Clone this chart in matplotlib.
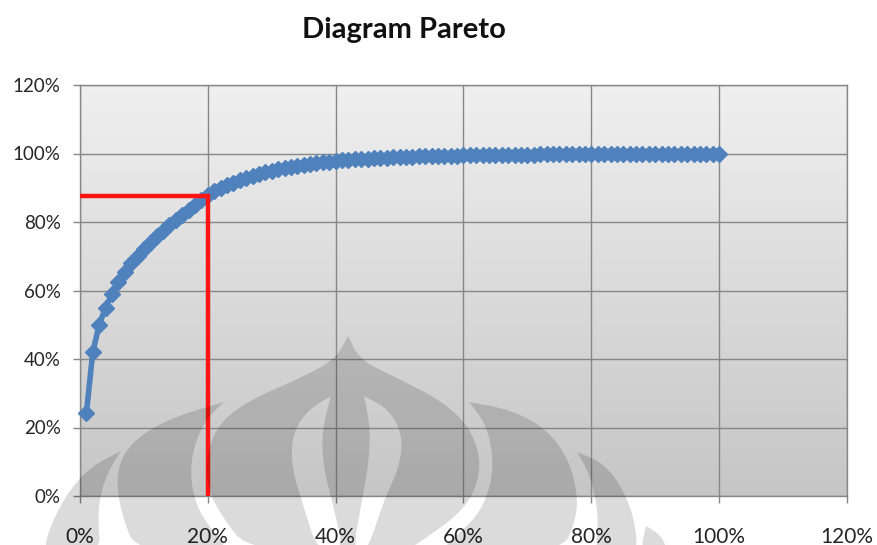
import matplotlib
matplotlib.use("Agg")
import matplotlib.pyplot as plt
import numpy as np
from matplotlib.path import Path
from matplotlib.patches import PathPatch
from matplotlib.ticker import FuncFormatter, MultipleLocator

plt.rcParams["font.family"] = ["Lato", "DejaVu Sans"]

# cumulative share of items (%) vs cumulative share of value (%)
item_share = np.arange(1, 101)
cum_value = [
    24.2, 42.0, 50.0, 55.0, 59.0, 62.5, 65.5, 68.0, 70.0, 72.0,
    74.0, 75.8, 77.5, 79.1, 80.6, 82.0, 83.6, 85.0, 86.5, 88.0,
    89.0, 89.9, 90.7, 91.5, 92.2, 92.9, 93.5, 94.0, 94.5, 95.0,
    95.4, 95.8, 96.1, 96.4, 96.7, 97.0, 97.2, 97.4, 97.6, 97.8,
    98.0, 98.1, 98.3, 98.4, 98.5, 98.6, 98.7, 98.8, 98.9, 99.0,
    99.05, 99.1, 99.15, 99.2, 99.25, 99.3, 99.33, 99.36, 99.4, 99.43,
    99.46, 99.49, 99.52, 99.55, 99.58, 99.6, 99.62, 99.64, 99.66, 99.68,
    99.7, 99.72, 99.74, 99.76, 99.78, 99.8, 99.81, 99.82, 99.83, 99.84,
    99.85, 99.86, 99.87, 99.88, 99.89, 99.9, 99.91, 99.92, 99.93, 99.94,
    99.95, 99.955, 99.96, 99.965, 99.97, 99.975, 99.98, 99.985, 99.99, 100.0,
]
cutoff_x = 20.0
cutoff_y = 87.5

W, H = 878, 545
fig = plt.figure(figsize=(W / 100, H / 100), dpi=100)
ax = fig.add_axes([80 / W, 1 - 496 / H, (847 - 80) / W, (496 - 85) / H])

# plot-area gradient, light at the top
grad = np.linspace(0, 1, 256).reshape(-1, 1)
top, bot = np.array([0.94, 0.94, 0.94]), np.array([0.775, 0.775, 0.775])
img = top + (bot - top) * grad[..., None]
ax.imshow(img.reshape(256, 1, 3), extent=[0, 1, 0, 1], transform=ax.transAxes,
          aspect="auto", zorder=0)

ax.set_xlim(0, 120)
ax.set_ylim(0, 120)
ax.xaxis.set_major_locator(MultipleLocator(20))
ax.yaxis.set_major_locator(MultipleLocator(20))
pct = FuncFormatter(lambda v, _: f"{v:.0f}%")
ax.xaxis.set_major_formatter(pct)
ax.yaxis.set_major_formatter(pct)
ax.grid(True, color="#878787", lw=1.0, zorder=1)
ax.set_axisbelow(True)
for s in ax.spines.values():
    s.set_color("#878787")
    s.set_linewidth(1.0)
ax.tick_params(axis="both", direction="out", length=5, width=1.0, color="#878787",
               labelcolor="#262626")
ax.tick_params(axis="y", labelsize=13.5, pad=9)
ax.tick_params(axis="x", labelsize=15, pad=17)

ax.plot(item_share, cum_value, color="#4f81bd", lw=4.0, marker="D", ms=8,
        mec="#4f81bd", mfc="#4f81bd", zorder=3, clip_on=False)
ax.plot([0, cutoff_x, cutoff_x], [cutoff_y, cutoff_y, 0], color="#ff1414",
        lw=3.2, zorder=4, solid_joinstyle="miter")

fig.text(404 / W, 1 - 30 / H, "Diagram Pareto", ha="center", va="center",
         fontsize=21, fontweight="bold", color="#111111")

# faint logo watermark drawn over the lower part of the figure (pixel coords)
wm = fig.add_axes([0, 0, 1, 1], zorder=10)
wm.set_xlim(0, W)
wm.set_ylim(H, 0)
wm.axis("off")
wm.patch.set_alpha(0)


def area(pts):
    p = np.asarray(pts, float)
    return 0.5 * np.sum(p[:, 0] * np.roll(p[:, 1], -1) - np.roll(p[:, 0], -1) * p[:, 1])


def smooth(pts, keep=(0,), n=3):
    # Chaikin corner cutting; vertices listed in `keep` stay as sharp tips
    p = [np.asarray(q, float) for q in pts]
    sharp = [i in keep for i in range(len(p))]
    for _ in range(n):
        out, flags = [], []
        m = len(p)
        for i in range(m):
            a, b = p[i], p[(i + 1) % m]
            if sharp[i]:
                out.append(a)
                flags.append(True)
            out.append(0.75 * a + 0.25 * b if not sharp[i] else 0.85 * a + 0.15 * b)
            flags.append(False)
            out.append(0.25 * a + 0.75 * b if not sharp[(i + 1) % m] else 0.15 * a + 0.85 * b)
            flags.append(False)
        p, sharp = out, flags
    return [tuple(q) for q in p]


def shape(outer, holes=(), keep=(0,)):
    verts, codes = [], []
    rings = [smooth(outer, keep)] + [smooth(h, (0,)) for h in holes]
    sign = np.sign(area(rings[0]))
    for i, ring in enumerate(rings):
        if i > 0 and np.sign(area(ring)) == sign:
            ring = ring[::-1]
        verts += ring + [ring[0]]
        codes += [Path.MOVETO] + [Path.LINETO] * (len(ring) - 1) + [Path.CLOSEPOLY]
    wm.add_patch(PathPatch(Path(verts, codes), fc="black", ec="none", alpha=0.14))


dome = [(348, 336), (360, 360), (397, 378), (440, 400), (466, 423), (478, 448),
        (480, 472), (472, 497), (455, 517), (430, 535), (405, 552),
        (250, 552), (222, 517), (207, 487), (207, 452), (220, 422), (250, 400),
        (296, 380), (335, 360)]
petal_l = [(331, 396), (322, 430), (323, 465), (333, 505), (344, 552),
           (318, 552), (303, 505), (291, 465), (293, 432), (308, 410)]
petal_r = [(364, 396), (390, 410), (403, 437), (399, 468), (384, 500),
           (367, 552), (353, 552), (361, 505), (369, 462), (370, 425)]
shape(dome, [petal_l, petal_r], keep=(0,))

shape([(224, 402), (177, 416), (143, 433), (122, 455), (116, 482), (122, 515),
       (136, 552), (232, 552), (210, 528), (196, 505), (190, 475), (194, 445),
       (207, 418)], keep=(0,))
shape([(121, 451), (92, 466), (72, 487), (58, 510), (48, 533), (44, 552),
       (101, 552), (98, 522), (100, 495), (109, 470)], keep=(0,))
shape([(469, 402), (512, 410), (548, 430), (570, 462), (578, 498), (575, 522),
       (562, 552), (438, 552), (460, 533), (480, 512), (491, 485), (493, 455),
       (486, 424)], keep=(0,))
shape([(577, 452), (601, 462), (618, 481), (631, 508), (636, 532), (637, 552),
       (595, 552), (598, 530), (597, 505), (590, 475)], keep=(0,))
shape([(646, 526), (661, 535), (668, 552), (640, 552)], keep=(0,))

fig.savefig("out.png", dpi=100)
